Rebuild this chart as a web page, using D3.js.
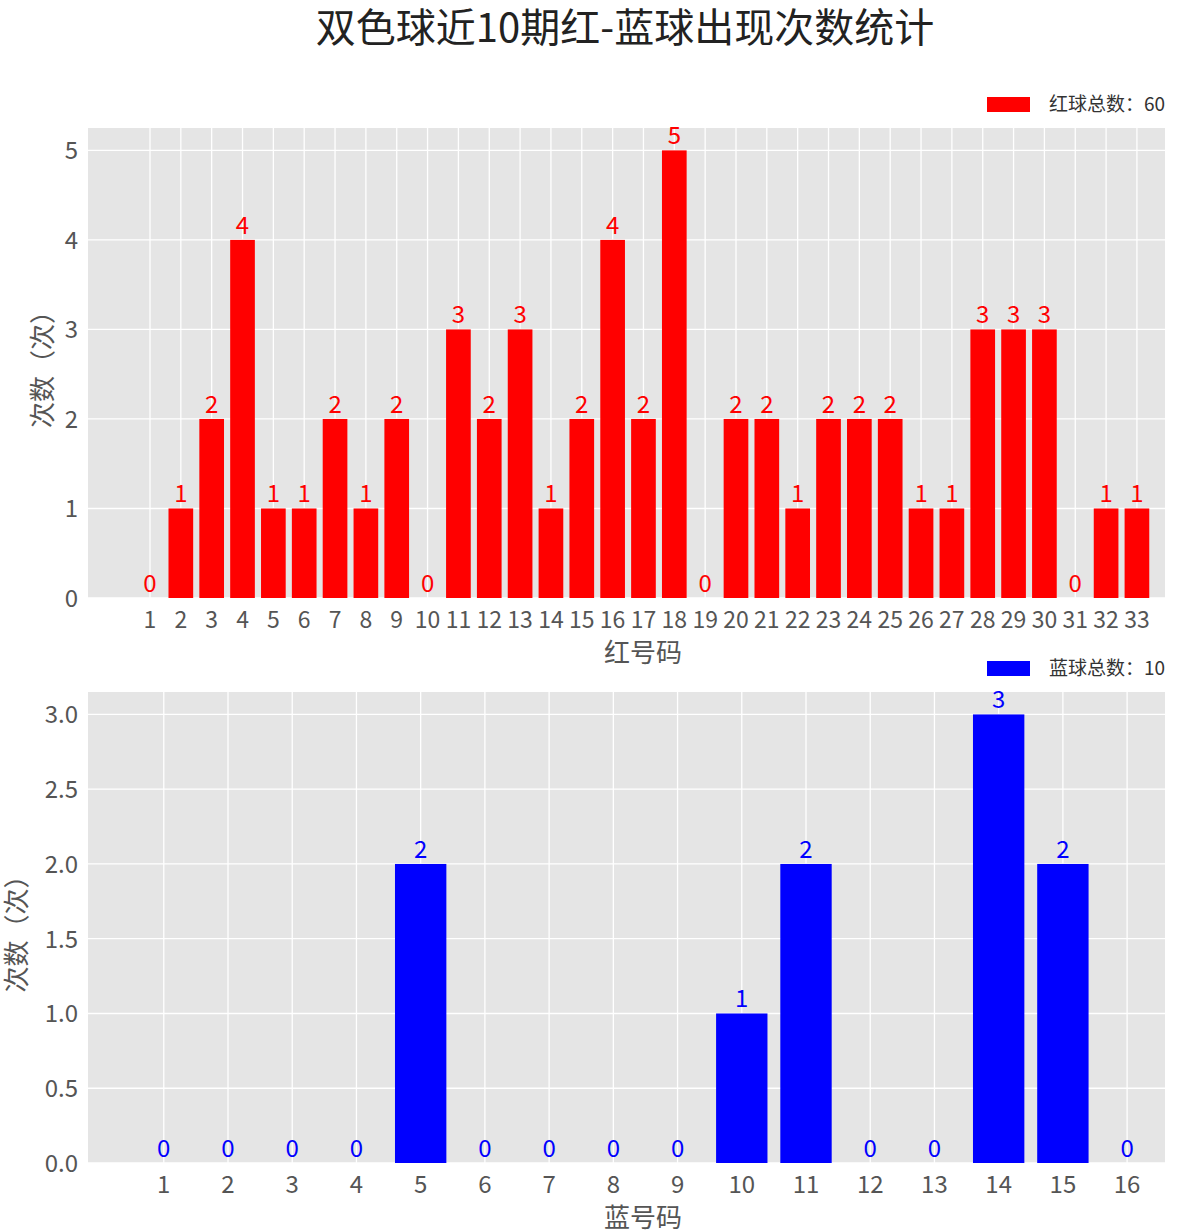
<!DOCTYPE html>
<html><head><meta charset="utf-8">
<script src="https://cdn.jsdelivr.net/npm/d3@7"></script>
<style>body{margin:0;background:#fff}text{font-family:"Noto Sans CJK SC","DejaVu Sans",sans-serif}</style>
</head><body>
<svg id="c" width="1200" height="1231"></svg>
<script>
const redNums = d3.range(1,34);
const redCounts = [0,1,2,4,1,1,2,1,2,0,3,2,3,1,2,4,2,5,0,2,2,1,2,2,2,1,1,3,3,3,0,1,1];
const blueNums = d3.range(1,17);
const blueCounts = [0,0,0,0,2,0,0,0,0,1,2,0,0,3,2,0];
const redTicks = [0,1,2,3,4,5];
const blueTicks = [0,0.5,1,1.5,2,2.5,3];

const svg = d3.select("#c");
svg.append("text").attr("x",625).attr("y",42).attr("text-anchor","middle")
  .attr("font-size",40).attr("fill","#222").text("双色球近10期红-蓝球出现次数统计");

function panel(o){
  const g = svg.append("g");
  const x = d3.scaleLinear().domain(o.xd).range([88,1165]);
  const y = d3.scaleLinear().domain([0,o.ymax]).range([o.bottom,o.top]);
  g.append("rect").attr("x",88).attr("y",o.top).attr("width",1077).attr("height",o.bottom-o.top).attr("fill","#e5e5e5");
  g.selectAll(".vg").data(o.nums).join("line").attr("x1",d=>x(d)).attr("x2",d=>x(d))
    .attr("y1",o.top).attr("y2",o.bottom).attr("stroke","#fff").attr("stroke-width",1.3);
  g.selectAll(".hg").data(o.ticks).join("line").attr("x1",88).attr("x2",1165)
    .attr("y1",d=>y(d)).attr("y2",d=>y(d)).attr("stroke","#fff").attr("stroke-width",1.3);
  const w = (x(1)-x(0))*0.8;
  g.selectAll(".b").data(o.nums).join("rect").attr("x",d=>x(d)-w/2).attr("width",w)
    .attr("y",(d,i)=>y(o.counts[i])).attr("height",(d,i)=>o.bottom-y(o.counts[i])).attr("fill",o.color);
  g.selectAll(".v").data(o.nums).join("text").attr("x",d=>x(d)).attr("y",(d,i)=>y(o.counts[i])-6)
    .attr("text-anchor","middle").attr("font-size",24).attr("fill",o.color).text((d,i)=>o.counts[i]);
  g.selectAll(".xt").data(o.nums).join("text").attr("x",d=>x(d)).attr("y",o.bottom+30)
    .attr("text-anchor","middle").attr("font-size",o.xfs).attr("fill","#555").text(d=>d);
  g.selectAll(".yt").data(o.ticks).join("text").attr("x",78).attr("y",d=>y(d)+9)
    .attr("text-anchor","end").attr("font-size",24).attr("fill","#555").text(d=>o.fmt(d));
  g.append("text").attr("x",643).attr("y",o.bottom+64).attr("text-anchor","middle")
    .attr("font-size",26).attr("fill","#555").text(o.xlabel);
  g.append("text").attr("transform",`translate(${o.ylx},${(o.top+o.bottom)/2}) rotate(-90)`)
    .attr("text-anchor","middle").attr("font-size",26).attr("fill","#555").text("次数（次）");
  g.append("rect").attr("x",987).attr("y",o.legY-7).attr("width",43).attr("height",15).attr("fill",o.color);
  g.append("text").attr("x",1049).attr("y",o.legY+7).attr("font-size",19).attr("fill","#333").text(o.legend);
}
panel({nums:redNums,counts:redCounts,ticks:redTicks,xd:[-1.01,33.91],ymax:5.25,top:128,bottom:598,xfs:23,
  color:"#ff0000",fmt:d=>d,xlabel:"红号码",ylx:52,legY:104,legend:"红球总数：60"});
panel({nums:blueNums,counts:blueCounts,ticks:blueTicks,xd:[-0.18,16.59],ymax:3.15,top:692,bottom:1163,xfs:24,
  color:"#0000ff",fmt:d=>d.toFixed(1),xlabel:"蓝号码",ylx:26,legY:668,legend:"蓝球总数：10"});
</script>
</body></html>
